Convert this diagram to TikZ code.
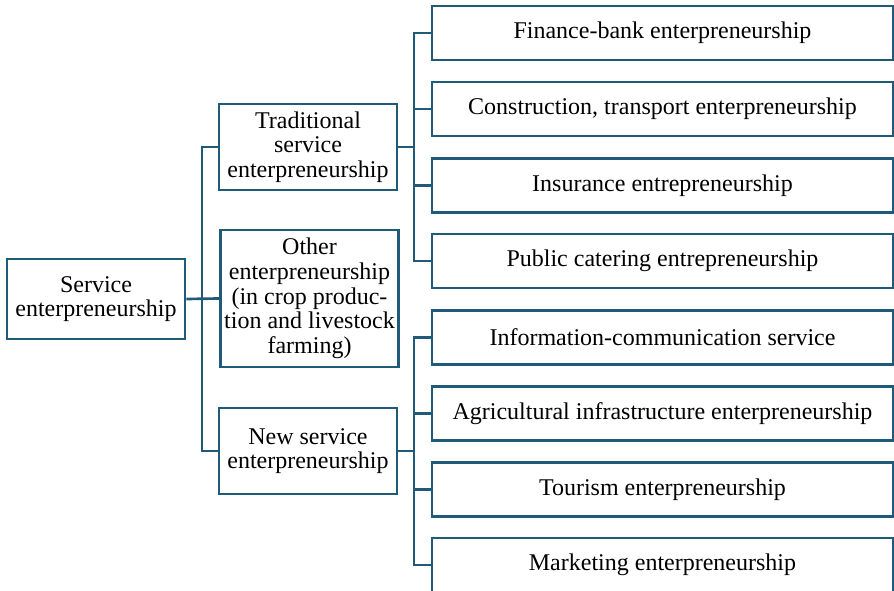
\documentclass[tikz,border=0pt]{standalone}
\usepackage{fontspec}
\setmainfont{Liberation Serif}
\usepackage{xcolor}
\usetikzlibrary{arrows.meta}
\definecolor{boxblue}{RGB}{31,91,120}

\begin{document}
\begin{tikzpicture}[x=0.75pt,y=-0.75pt,line width=2pt,draw=boxblue]

	\tikzstyle{midbox} = [draw=boxblue,fill=white,minimum width=133.5pt,align=center,inner sep=1.5pt,font=\fontsize{18}{18.5}\selectfont]
	\tikzstyle{leafbox} = [draw=boxblue,fill=white,minimum width=345.75pt,minimum height=40.5pt,align=center,inner sep=2pt,font=\fontsize{18}{18.5}\selectfont]

	\useasboundingbox (0,0) rectangle (894,591);

	% left column
	\node[midbox,minimum height=60pt] (service) at (96,299) {Service\\enterpreneurship};

	\node[midbox,minimum height=64.5pt] (trad) at (308,147) {Traditional\\service\\enterpreneurship};
	\node[midbox,minimum height=102.75pt] (other) at (309.5,298.5) {Other\\enterpreneurship\\(in crop produc-\\tion and livestock\\farming)};
	\node[midbox,minimum height=64.5pt] (new) at (308,451) {New service\\enterpreneurship};

	% right column
	\node[leafbox] (fin) at (662.5,33) {Finance-bank enterpreneurship};
	\node[leafbox] (con) at (662.5,109) {Construction, transport enterpreneurship};
	\node[leafbox] (ins) at (662.5,185.5) {Insurance entrepreneurship};
	\node[leafbox] (pub) at (662.5,261) {Public catering entrepreneurship};

	\node[leafbox] (info) at (662.5,337.5) {Information-communication service};
	\node[leafbox] (agri) at (662.5,413.5) {Agricultural infrastructure enterpreneurship};
	\node[leafbox] (tour) at (662.5,489.5) {Tourism enterpreneurship};
	\node[leafbox] (mark) at (662.5,565) {Marketing enterpreneurship};

	% junctions
	\coordinate (jleft) at (202,299);
	\coordinate (jtrad) at (414,147);
	\coordinate (jnew) at (414,451);

	\draw[boxblue] (service.east) -- (other.west);
	\draw[boxblue] (trad.west) -| (jleft) |- (new.west);

	\draw[boxblue] (trad.east) -- (jtrad);
	\draw[boxblue] (fin.west) -| (jtrad) |- (pub.west);
	\draw[boxblue] (jtrad) |- (con.west);
	\draw[boxblue] (jtrad) |- (ins.west);

	\draw[boxblue] (new.east) -- (jnew);
	\draw[boxblue] (info.west) -| (jnew) |- (mark.west);
	\draw[boxblue] (jnew) |- (agri.west);
	\draw[boxblue] (jnew) |- (tour.west);

\end{tikzpicture}
\end{document}
